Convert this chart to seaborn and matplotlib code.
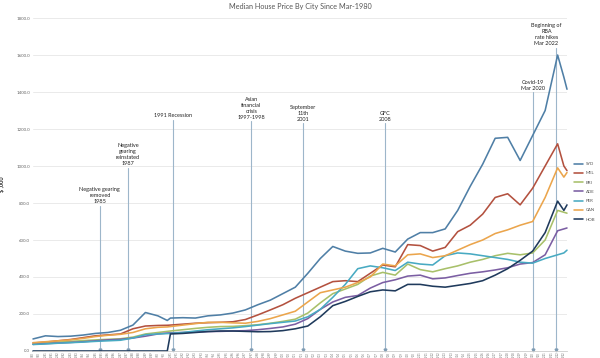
import numpy as np
import pandas as pd
import matplotlib
matplotlib.use('Agg')
import matplotlib.pyplot as plt
import seaborn as sns

# quarter dates as decimal years (Mar-1980 = 1980.0)
dates = list(range(1980, 1991)) + [1990.75] + list(range(1991, 2023)) + [2022.5, 2022.75]

syd = [65, 82, 78, 80, 86, 95, 100, 112, 140, 208, 190,
       165,
       178, 180, 178, 190, 195, 205, 222, 250, 275, 310,
       345, 420, 500, 565, 540, 528, 530, 555, 535, 605,
       640, 640, 660, 760, 890, 1010, 1150, 1155, 1030, 1165,
       1300, 1600,
       1480, 1415]
mel = [43, 48, 55, 62, 72, 82, 87, 92, 120, 135, 138,
       139,
       140, 145, 150, 153, 155, 158, 170, 195, 222, 250,
       285, 315, 345, 375, 380, 375, 420, 465, 455, 575,
       570, 540, 560, 645, 680, 740, 830, 850, 790, 880,
       1000, 1120,
       1000, 975]
bri = [38, 43, 48, 52, 56, 60, 63, 66, 75, 92, 100,
       106,
       108, 115, 122, 128, 132, 133, 137, 142, 150, 160,
       172, 205, 260, 310, 335, 360, 405, 425, 410, 470,
       440, 428, 445, 460, 480, 495, 515, 528, 520, 530,
       600, 760,
       750, 745]
ade = [36, 40, 43, 46, 50, 55, 60, 63, 70, 80, 92,
       97,
       98, 100, 103, 105, 106, 108, 110, 115, 122, 130,
       145, 175, 225, 265, 290, 300, 340, 370, 385, 405,
       410, 390, 395, 408, 420, 428, 438, 450, 470, 478,
       520, 650,
       660, 665]
per = [35, 38, 42, 45, 48, 52, 55, 58, 70, 88, 92,
       94,
       95, 100, 108, 115, 120, 125, 132, 140, 148, 155,
       162, 185, 225, 290, 360, 445, 460, 450, 435, 480,
       470, 465, 515, 530, 525, 515, 505, 495, 480, 475,
       500, 520,
       530, 545]
can = [45, 50, 55, 60, 68, 78, 85, 90, 100, 120, 128,
       130,
       132, 140, 148, 155, 155, 152, 150, 160, 175, 195,
       215, 265, 315, 330, 345, 370, 400, 470, 460, 520,
       525, 505, 515, 545, 575, 600, 635, 655, 680, 700,
       830, 990,
       940, 965]
hob = [0, 0, 0, 0, 0, 0, 0, 0, 0, 0, 0,
       0,
       92, 95, 100, 105, 108, 108, 106, 104, 105, 110,
       120, 135, 185, 245, 268, 295, 320, 330, 325, 360,
       360, 350, 345, 355, 365, 380, 410, 445, 490, 540,
       640, 810,
       760, 790]

cities = ['SYD', 'MEL', 'BRI', 'ADE', 'PER', 'CAN', 'HOB']
series = [syd, mel, bri, ade, per, can, hob]
colors = ['#4f7fa6', '#b3513f', '#a8c06a', '#7b5ea3', '#48aac2', '#eba54c', '#1f3a5c']

event_dates = [1985.35, 1987.6, 1991.18, 1997.48, 2001.6, 2008.18, 2020.0, 2021.9]
event_labels = ['Negative gearing\nremoved\n1985',
                'Negative\ngearing\nreinstated\n1987',
                '1991 Recession',
                'Asian\nfinancial\ncrisis\n1997-1998',
                'September\n11th\n2001',
                'GFC\n2008',
                'Covid-19\nMar 2020',
                'Beginning of\nRBA\nrate hikes\nMar 2022']
# layout only: where each event line stops and where its label sits
line_tops = [785, 990, 1250, 1243, 1232, 1232, 1400, 1640]
label_shift = [0, 0, 0, 0, 0, 0, 0, -0.8]

yticks = list(range(0, 2000, 200))
xticks = [y + q * 0.5 for y in range(1980, 2023) for q in range(2)]
xticklabels = [f'{3 + 6 * q}/{str(y)[2:]}' for y in range(1980, 2023) for q in range(2)]

df = pd.DataFrame({
    'date': dates * len(cities),
    'price': sum(series, []),
    'city': [c for c in cities for _ in dates],
})

sns.set_style('white')
plt.rcParams['font.family'] = ['Lato', 'DejaVu Sans']

fig = plt.figure(figsize=(6, 3.58), dpi=100)
ax = fig.add_axes([0.055, 0.0196, 0.89, 0.930])

for y in yticks[1:]:
    ax.axhline(y, color='#e6e6e6', lw=0.6, zorder=0)

sns.lineplot(data=df, x='date', y='price', hue='city', hue_order=cities,
             palette=dict(zip(cities, colors)), linewidth=1.15, ax=ax, clip_on=False)

for d, lab, top, sh in zip(event_dates, event_labels, line_tops, label_shift):
    ax.plot([d, d], [0, top], color='#9db6ca', lw=0.8, zorder=1)
    ax.plot(d, 4, marker='v', ms=2, color='#7f9cb3', zorder=1, clip_on=False)
    ax.text(d + sh, top + 8, lab, ha='center', va='bottom', fontsize=4,
            color='#222222', linespacing=1.25)

ax.set_xlim(1980, 2022.75)
ax.set_ylim(0, 1800)
ax.set_yticks(yticks)
ax.set_yticklabels([f'{v:.1f}' for v in yticks], fontsize=3.2, color='#666666')
ax.set_xticks(xticks)
ax.set_xticklabels(xticklabels, rotation=90, fontsize=1.9, color='#666666')
ax.tick_params(axis='x', length=0, pad=0.6)
ax.tick_params(axis='y', length=0, pad=2)
ax.set_xlabel('')
ax.set_ylabel('$ ,000', fontsize=4, fontweight='bold', labelpad=8)
for s in ['top', 'right', 'left']:
    ax.spines[s].set_visible(False)
ax.spines['bottom'].set_color('#cccccc')
ax.spines['bottom'].set_linewidth(0.6)

ax.legend(loc='center left', bbox_to_anchor=(1.005, 0.478), frameon=False,
          fontsize=3.2, handlelength=2.2, labelspacing=1.15, handletextpad=0.6,
          labelcolor='#555555')

fig.suptitle('Median House Price By City Since Mar-1980', x=0.5, y=0.993,
             fontsize=5.2, color='#555555')

fig.savefig('out.png', dpi=100)
